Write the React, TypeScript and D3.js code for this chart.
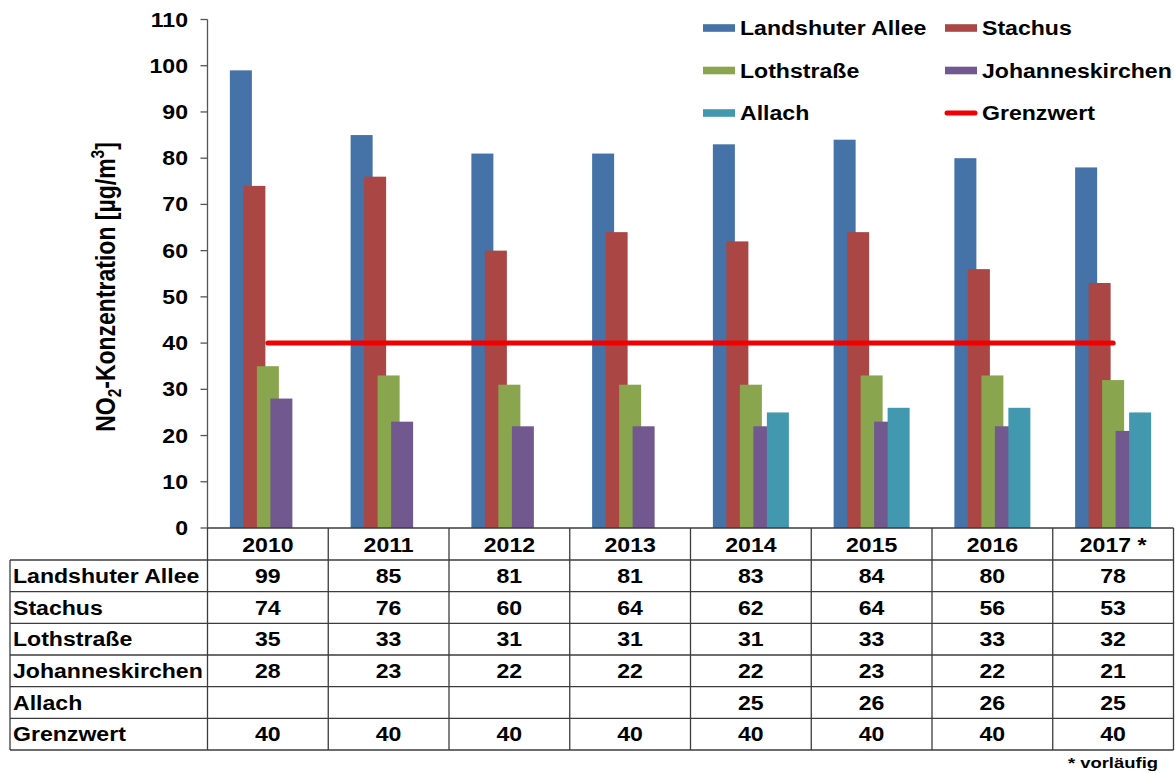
import React from "react";
import * as d3 from "d3";

// NO2 annual means at Munich measuring stations (µg/m³)
const years = ["2010", "2011", "2012", "2013", "2014", "2015", "2016", "2017 *"];
const landshuterAllee = [99, 85, 81, 81, 83, 84, 80, 78];
const stachus = [74, 76, 60, 64, 62, 64, 56, 53];
const lothstrasse = [35, 33, 31, 31, 31, 33, 33, 32];
const johanneskirchen = [28, 23, 22, 22, 22, 23, 22, 21];
const allach: (number | null)[] = [null, null, null, null, 25, 26, 26, 25];
const grenzwert = [40, 40, 40, 40, 40, 40, 40, 40];
const yTicks = [0, 10, 20, 30, 40, 50, 60, 70, 80, 90, 100, 110];

const barSeries = [
  { name: "Landshuter Allee", values: landshuterAllee as (number | null)[], color: "#4572A7" },
  { name: "Stachus", values: stachus as (number | null)[], color: "#AA4643" },
  { name: "Lothstraße", values: lothstrasse as (number | null)[], color: "#89A54E" },
  { name: "Johanneskirchen", values: johanneskirchen as (number | null)[], color: "#71588F" },
  { name: "Allach", values: allach, color: "#4198AF" },
];
const limitColor = "#F00000";

const tableRows = [
  ...barSeries.map((s) => ({ name: s.name, values: s.values })),
  { name: "Grenzwert", values: grenzwert as (number | null)[] },
];

const W = 1175;
const H = 773;
const FONT = "'Liberation Sans', Arial, Helvetica, sans-serif";
const SX = 1.19; // glyphs are drawn slightly widened

const plotLeft = 207.5;
const plotRight = 1173.5;
const plotTop = 19.5;
const plotBottom = 528;
const tableLeft = 10;
const headerBottom = 560;
const tableBottom = 750;
const rowH = (tableBottom - headerBottom) / tableRows.length;

function Txt({ x, y, anchor = "start", size = 19.4, children }: any) {
  return (
    <text
      transform={`translate(${x},${y}) scale(${SX},1)`}
      textAnchor={anchor}
      fontFamily={FONT}
      fontWeight="bold"
      fontSize={size}
      fill="#000"
    >
      {children}
    </text>
  );
}

export default function App() {
  const x = d3.scaleBand<string>().domain(years).range([plotLeft, plotRight]);
  const y = d3.scaleLinear().domain([0, 110]).range([plotBottom, plotTop]);

  const barW = 22;
  const step = 13.5;
  const groupW = step * (barSeries.length - 1) + barW;
  const bw = x.bandwidth();

  const limitLine = d3
    .line<number>()
    .x((_, i) => (x(years[i]) as number) + bw / 2)
    .y((d) => y(d));

  const boundaries = years.map((yr) => x(yr) as number).concat([plotRight]);
  const rowLines = d3.range(tableRows.length + 1).map((i) => headerBottom + i * rowH);

  const legend = [
    { label: "Landshuter Allee", color: barSeries[0].color, kind: "bar", col: 0, row: 0 },
    { label: "Stachus", color: barSeries[1].color, kind: "bar", col: 1, row: 0 },
    { label: "Lothstraße", color: barSeries[2].color, kind: "bar", col: 0, row: 1 },
    { label: "Johanneskirchen", color: barSeries[3].color, kind: "bar", col: 1, row: 1 },
    { label: "Allach", color: barSeries[4].color, kind: "bar", col: 0, row: 2 },
    { label: "Grenzwert", color: limitColor, kind: "line", col: 1, row: 2 },
  ];
  const legendX = [703, 945];
  const legendY = [28, 70.5, 113];

  return (
    <svg
      width={W}
      height={H}
      viewBox={`0 0 ${W} ${H}`}
      style={{ position: "absolute", left: 0, top: 0, background: "#fff", display: "block" }}
    >
      <rect x={0} y={0} width={W} height={H} fill="#fff" />

      {/* bars: overlapping clustered columns, later series on top */}
      {barSeries.map((s, si) => (
        <g key={s.name}>
          {s.values.map((v, i) =>
            v == null ? null : (
              <rect
                key={i}
                x={(x(years[i]) as number) + bw / 2 - groupW / 2 + si * step}
                y={y(v)}
                width={barW}
                height={y(0) - y(v)}
                fill={s.color}
              />
            )
          )}
        </g>
      ))}

      {/* limit value line */}
      <path
        d={limitLine(grenzwert) || ""}
        fill="none"
        stroke={limitColor}
        strokeWidth={5}
        strokeLinecap="round"
      />

      {/* y axis */}
      <line x1={plotLeft} x2={plotLeft} y1={plotTop} y2={plotBottom} stroke="#555" strokeWidth={1.3} />
      {yTicks.map((t) => (
        <g key={t}>
          <line x1={plotLeft - 7} x2={plotLeft} y1={y(t)} y2={y(t)} stroke="#555" strokeWidth={1.3} />
          <Txt x={188} y={y(t) + 7} anchor="end">
            {t}
          </Txt>
        </g>
      ))}

      {/* axis title */}
      <text
        transform={`translate(115,287) scale(${SX},1) rotate(-90)`}
        textAnchor="middle"
        fontFamily={FONT}
        fontWeight="bold"
        fontSize={23}
        fill="#000"
      >
        NO
        <tspan fontSize={15.5} dy={5}>
          2
        </tspan>
        <tspan dy={-5}>-Konzentration [µg/m</tspan>
        <tspan fontSize={15.5} dy={-9}>
          3
        </tspan>
        <tspan dy={9}>]</tspan>
      </text>

      {/* data table */}
      <g stroke="#3c3c3c" strokeWidth={1.3}>
        <line x1={plotLeft} x2={plotRight} y1={plotBottom} y2={plotBottom} />
        {rowLines.map((ry, i) => (
          <line key={i} x1={tableLeft} x2={plotRight} y1={ry} y2={ry} />
        ))}
        <line x1={tableLeft} x2={tableLeft} y1={headerBottom} y2={tableBottom} />
        {boundaries.map((bx, i) => (
          <line key={i} x1={bx} x2={bx} y1={plotBottom} y2={tableBottom} />
        ))}
      </g>
      {years.map((yr) => (
        <Txt key={yr} x={(x(yr) as number) + bw / 2} y={(plotBottom + headerBottom) / 2 + 7.5} anchor="middle">
          {yr}
        </Txt>
      ))}
      {tableRows.map((r, ri) => {
        const cy = headerBottom + ri * rowH + rowH / 2 + 7.2;
        return (
          <g key={r.name}>
            <Txt x={tableLeft + 3} y={cy}>
              {r.name}
            </Txt>
            {r.values.map((v, i) =>
              v == null ? null : (
                <Txt key={i} x={(x(years[i]) as number) + bw / 2} y={cy} anchor="middle">
                  {v}
                </Txt>
              )
            )}
          </g>
        );
      })}

      {/* legend */}
      {legend.map((l) => {
        const lx = legendX[l.col];
        const ly = legendY[l.row];
        return (
          <g key={l.label}>
            {l.kind === "bar" ? (
              <rect x={lx} y={ly - 3.8} width={32} height={7.6} fill={l.color} />
            ) : (
              <line x1={lx + 2} x2={lx + 30} y1={ly} y2={ly} stroke={l.color} strokeWidth={5} strokeLinecap="round" />
            )}
            <Txt x={lx + 37} y={ly + 7}>
              {l.label}
            </Txt>
          </g>
        );
      })}

      {/* footnote */}
      <Txt x={1158} y={768} anchor="end" size={15.5}>
        * vorläufig
      </Txt>
    </svg>
  );
}
